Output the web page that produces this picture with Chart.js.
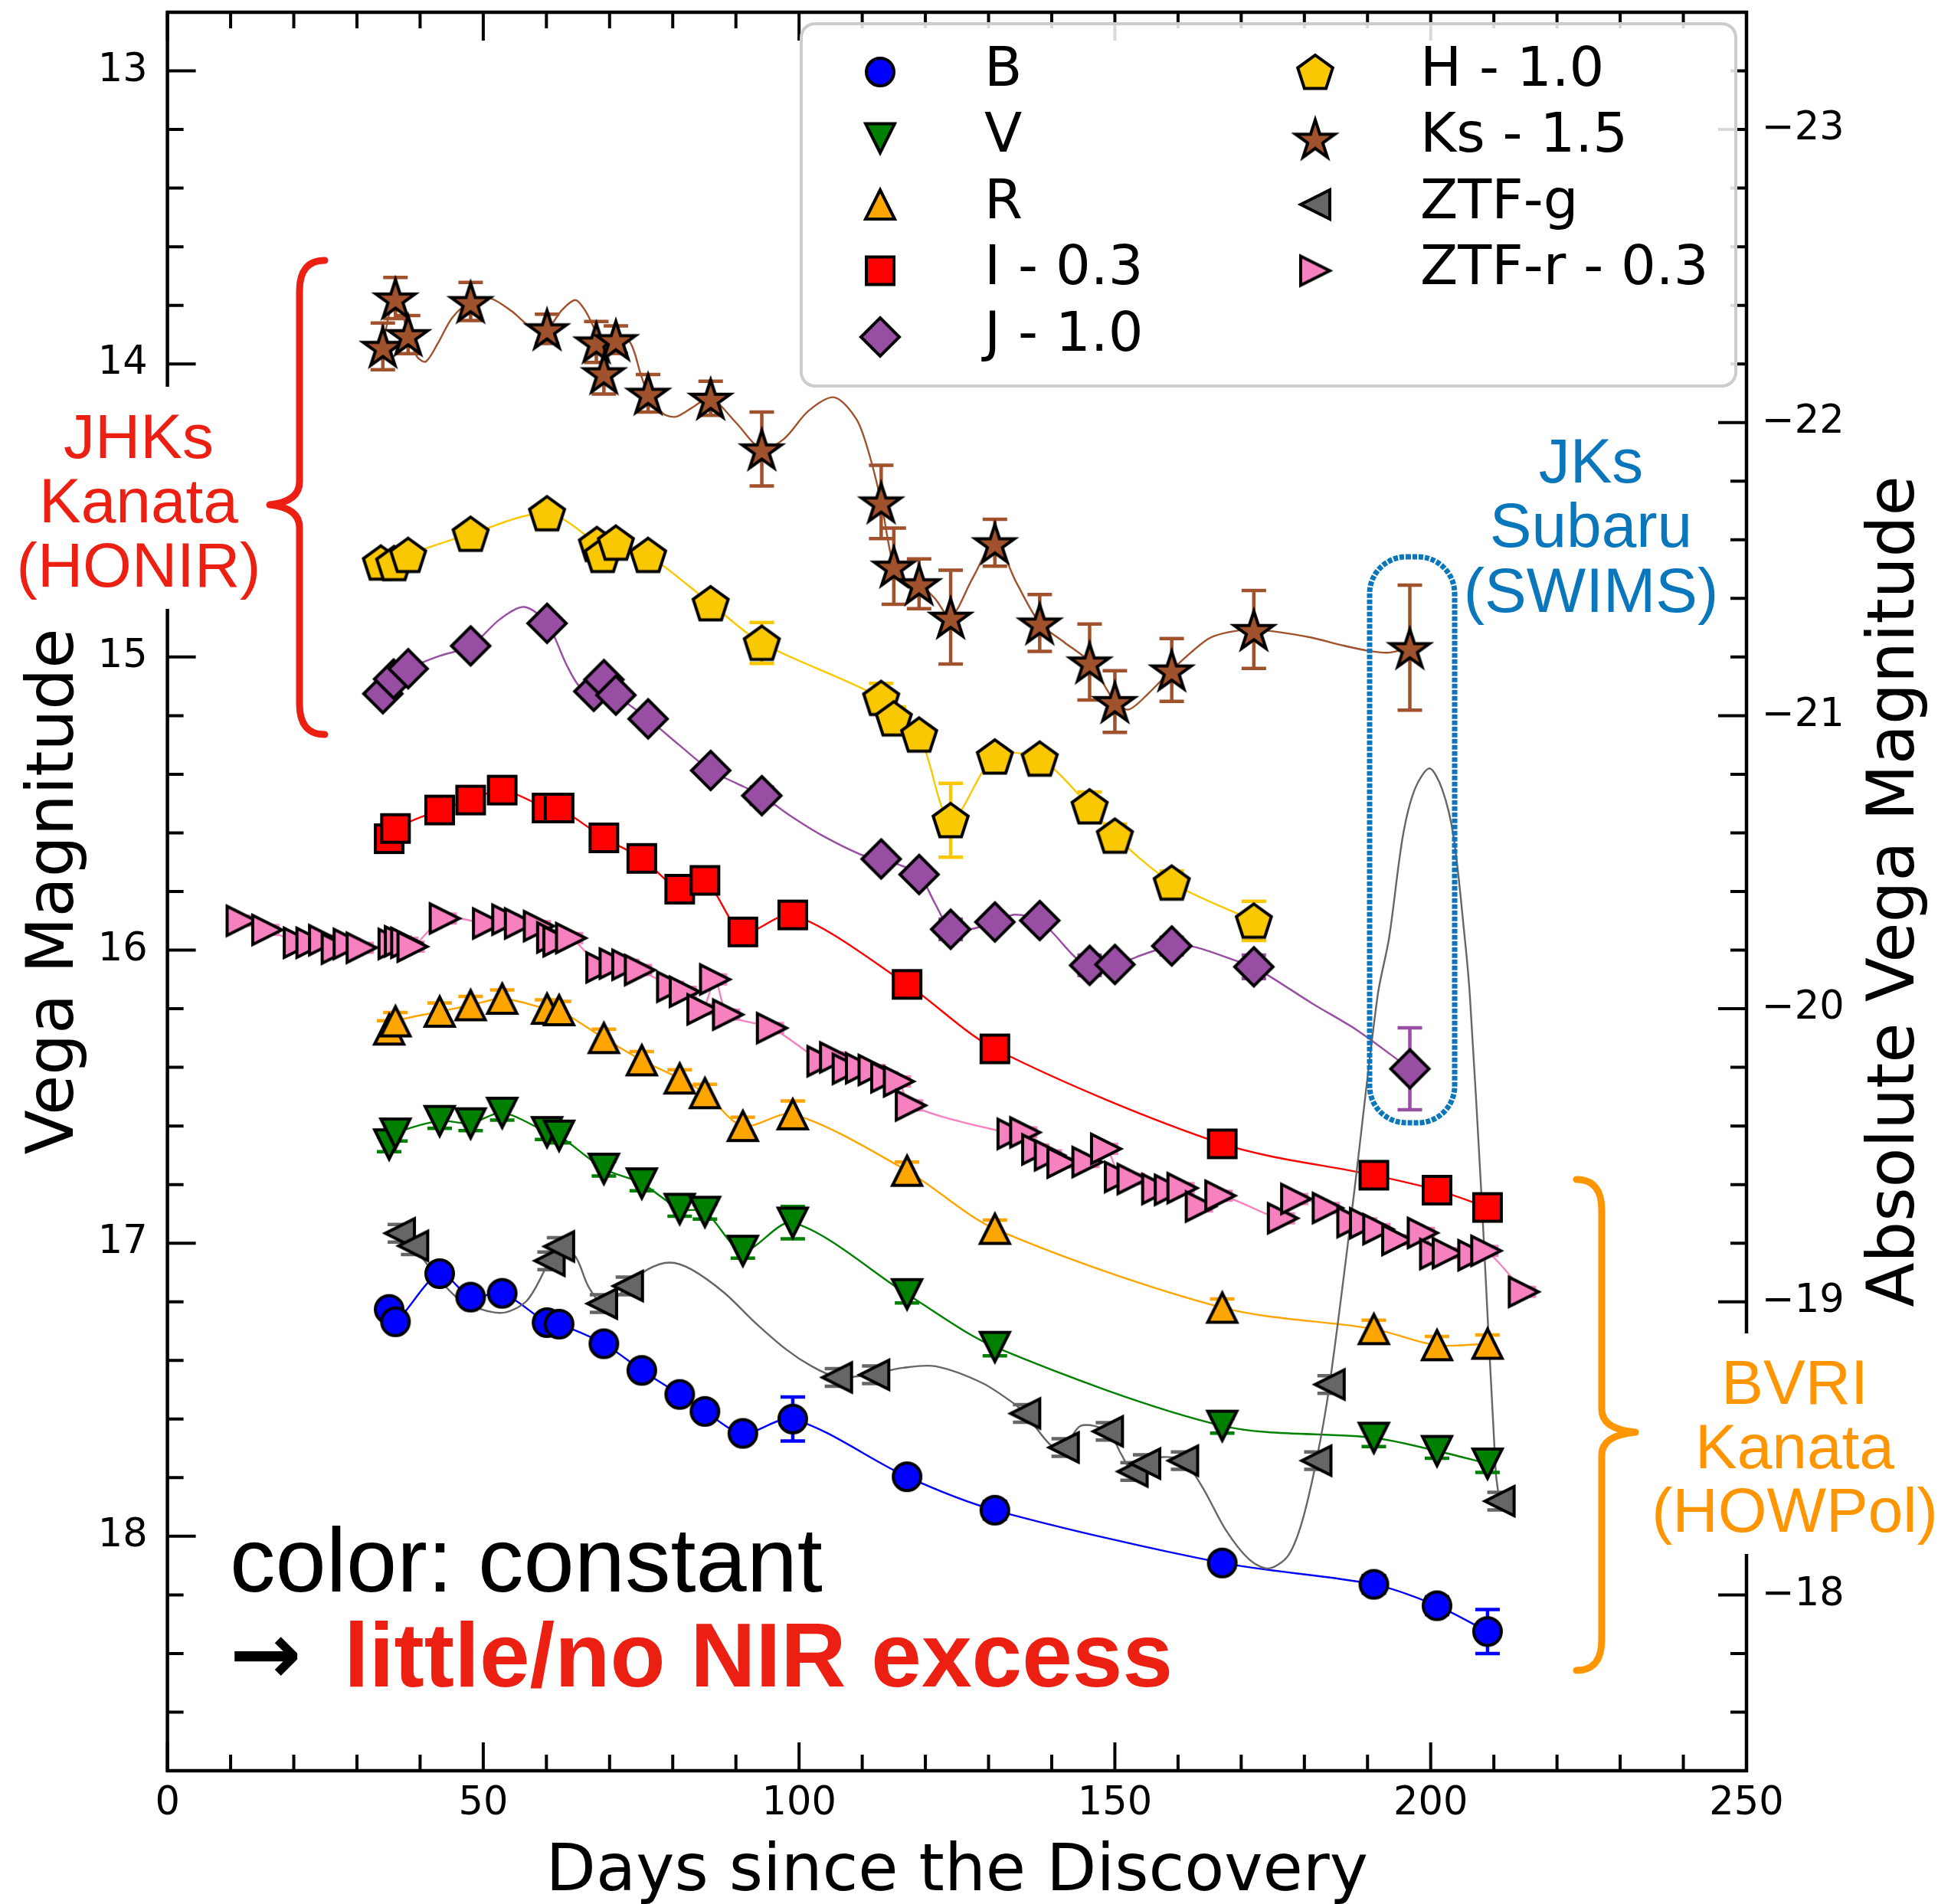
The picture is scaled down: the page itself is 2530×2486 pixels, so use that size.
<!DOCTYPE html>
<html>
<head>
<meta charset="utf-8">
<script src="https://cdn.jsdelivr.net/npm/chart.js@4.4.1/dist/chart.umd.min.js"></script>
<style>
  html, body { margin: 0; padding: 0; background: #fff; }
  canvas { display: block; }
</style>
</head>
<body>
<canvas id="chart" width="2530" height="2486" style="width:2530px;height:2486px"></canvas>
<script>
// distance modulus linking the two y axes (apparent - absolute)
const distMod = 36.2;

// B, V, R, I (Kanata HOWPol) share the same epochs
const opticalDays = [35.1, 36.1, 43.1, 48.0, 53.0, 60.1, 62.0, 69.1, 75.1, 81.1, 85.1, 91.1, 99.0, 117.1, 131.0, 167.0, 191.0, 201.0, 209.0];

const bMag = [17.226, 17.268, 17.104, 17.184, 17.171, 17.271, 17.276, 17.343, 17.434, 17.516, 17.574, 17.649, 17.600, 17.797, 17.911, 18.091, 18.164, 18.237, 18.325];
const bErr = [0.02, 0.02, 0.02, 0.02, 0.02, 0.02, 0.02, 0.02, 0.02, 0.02, 0.02, 0.02, 0.075, 0.02, 0.03, 0.02, 0.03, 0.03, 0.075];

const vMag = [16.663, 16.626, 16.583, 16.591, 16.555, 16.621, 16.633, 16.746, 16.796, 16.883, 16.893, 17.026, 16.930, 17.174, 17.354, 17.623, 17.664, 17.709, 17.752];
const vErr = [0.025, 0.025, 0.025, 0.025, 0.025, 0.025, 0.025, 0.025, 0.025, 0.025, 0.025, 0.025, 0.055, 0.03, 0.03, 0.025, 0.03, 0.025, 0.03];

const rMag = [16.271, 16.243, 16.210, 16.188, 16.166, 16.200, 16.205, 16.300, 16.376, 16.438, 16.488, 16.600, 16.560, 16.753, 16.951, 17.220, 17.293, 17.348, 17.343];
const rErr = [0.03, 0.03, 0.03, 0.03, 0.03, 0.03, 0.03, 0.03, 0.03, 0.03, 0.03, 0.03, 0.045, 0.03, 0.03, 0.03, 0.03, 0.03, 0.03];

const iMag = [15.620, 15.585, 15.522, 15.488, 15.454, 15.515, 15.515, 15.617, 15.687, 15.792, 15.762, 15.938, 15.880, 16.117, 16.337, 16.661, 16.768, 16.819, 16.878];
const iErr = [0.02, 0.02, 0.02, 0.02, 0.02, 0.02, 0.02, 0.02, 0.02, 0.02, 0.02, 0.02, 0.025, 0.02, 0.02, 0.02, 0.02, 0.02, 0.02];

// J - 1.0
const jDays = [34.1, 35.8, 38.1, 48.0, 60.1, 67.5, 69.1, 71.0, 76.1, 86.0, 94.1, 113.0, 119.0, 124.0, 131.0, 138.1, 146.0, 150.0, 159.0, 172.0, 196.7];
const jMag = [15.125, 15.075, 15.040, 14.962, 14.885, 15.117, 15.077, 15.130, 15.211, 15.387, 15.473, 15.689, 15.742, 15.929, 15.904, 15.899, 16.052, 16.049, 15.986, 16.057, 16.405];
const jErr = [0.02, 0.02, 0.02, 0.02, 0.02, 0.02, 0.02, 0.02, 0.02, 0.02, 0.03, 0.02, 0.02, 0.035, 0.02, 0.02, 0.035, 0.02, 0.03, 0.04, 0.14];

// H - 1.0
const hDays = [33.8, 35.9, 38.1, 48.0, 60.1, 68.0, 68.9, 71.0, 76.1, 86.0, 94.1, 113.0, 115.0, 119.0, 124.0, 131.0, 138.1, 146.0, 150.0, 159.0, 172.0];
const hMag = [14.678, 14.680, 14.652, 14.580, 14.510, 14.615, 14.652, 14.610, 14.652, 14.817, 14.952, 15.140, 15.210, 15.265, 15.557, 15.340, 15.347, 15.510, 15.610, 15.770, 15.900];
const hErr = [0.02, 0.02, 0.02, 0.02, 0.02, 0.02, 0.02, 0.02, 0.02, 0.02, 0.07, 0.05, 0.04, 0.03, 0.126, 0.03, 0.03, 0.05, 0.04, 0.04, 0.067];

// Ks - 1.5
const ksDays = [34.1, 36.1, 38.1, 48.0, 60.1, 67.9, 69.1, 71.0, 76.1, 86.0, 94.1, 113.0, 115.0, 119.0, 124.0, 131.0, 138.1, 146.0, 150.0, 159.0, 172.0, 196.7];
const ksMag = [13.940, 13.775, 13.900, 13.787, 13.880, 13.925, 14.030, 13.917, 14.100, 14.117, 14.290, 14.471, 14.690, 14.750, 14.864, 14.610, 14.884, 15.017, 15.152, 15.044, 14.906, 14.968];
const ksErr = [0.08, 0.07, 0.065, 0.065, 0.05, 0.07, 0.073, 0.047, 0.064, 0.058, 0.126, 0.125, 0.13, 0.085, 0.16, 0.08, 0.097, 0.13, 0.105, 0.107, 0.133, 0.213];

// ZTF-g
const gDays = [36.8, 38.9, 60.5, 62.0, 68.8, 72.9, 106.0, 111.9, 135.8, 141.9, 148.9, 152.8, 154.8, 160.8, 181.9, 184.0, 210.9];
const gMag = [16.966, 17.009, 17.060, 17.011, 17.206, 17.146, 17.458, 17.449, 17.581, 17.697, 17.642, 17.779, 17.752, 17.742, 17.742, 17.482, 17.880];
const gErr = [0.03, 0.03, 0.03, 0.03, 0.03, 0.03, 0.03, 0.03, 0.03, 0.03, 0.03, 0.03, 0.03, 0.03, 0.03, 0.03, 0.03];

// ZTF-r - 0.3
const zrDays = [11.75, 15.8, 20.8, 22.8, 24.8, 26.8, 28.7, 30.75, 35.8, 36.8, 37.8, 38.8, 43.9, 50.75, 53.8, 55.8, 58.8, 60.9, 61.9, 63.9,
  68.7, 70.8, 72.8, 74.8, 79.9, 81.9, 84.7, 86.7, 88.75, 95.7, 103.7, 105.7, 107.7, 109.8, 111.8, 113.8, 115.8, 117.7,
  133.8, 135.8, 137.7, 139.7, 141.7, 145.65, 148.6, 150.8, 152.8, 156.7, 158.7, 160.7, 163.6, 166.7,
  176.6, 178.7, 183.7, 187.6, 189.6, 191.7, 194.7, 198.75, 200.7, 202.7, 206.75, 208.8, 214.75];
const zrMag = [15.900, 15.931, 15.975, 15.975, 15.966, 15.995, 15.979, 15.992, 15.979, 15.970, 15.975, 15.988, 15.892, 15.909, 15.896, 15.909, 15.918, 15.957, 15.970, 15.959,
  16.059, 16.046, 16.050, 16.068, 16.125, 16.142, 16.202, 16.100, 16.220, 16.266, 16.379, 16.366, 16.405, 16.403, 16.409, 16.434, 16.448, 16.530,
  16.627, 16.622, 16.680, 16.700, 16.725, 16.723, 16.678, 16.774, 16.781, 16.815, 16.818, 16.812, 16.875, 16.838,
  16.915, 16.849, 16.880, 16.928, 16.932, 16.952, 16.989, 16.965, 17.037, 17.034, 17.041, 17.026, 17.166];
const zrErr = zrMag.map(() => 0.015);

// fitted curves (where they wander away from the points)
const ksCurveDays = [34.1, 35.1, 36.1, 37.1, 38.1, 39.5, 40.9, 42.8, 45.1, 48.0, 51.0, 54.5, 57.6, 60.1, 62.5, 64.6, 66.2, 67.9, 69.5, 71.0, 73.2, 75.0, 76.1, 78.5, 80.5, 83.0, 86.0, 90.0, 94.1, 97.6, 101.5, 105.6, 109.1, 111.0, 113.0, 115.0, 117.0, 119.0, 121.5, 124.0, 127.5, 131.0, 134.5, 138.1, 142.0, 146.0, 150.0, 152.2, 155.5, 159.0, 164.7, 168.0, 172.0, 176.0, 181.0, 186.0, 190.2, 193.4, 196.7];
const ksCurveMag = [13.940, 13.830, 13.775, 13.820, 13.900, 13.975, 13.992, 13.930, 13.842, 13.787, 13.775, 13.820, 13.875, 13.880, 13.815, 13.782, 13.820, 13.890, 13.930, 13.920, 13.925, 14.040, 14.100, 14.170, 14.180, 14.150, 14.117, 14.200, 14.290, 14.256, 14.160, 14.114, 14.189, 14.300, 14.471, 14.690, 14.740, 14.750, 14.800, 14.864, 14.730, 14.610, 14.750, 14.884, 14.950, 15.017, 15.152, 15.179, 15.120, 15.044, 14.939, 14.915, 14.906, 14.915, 14.933, 14.960, 14.979, 14.985, 14.968];

const jCurveDays = [34.1, 35.8, 38.1, 43.0, 48.0, 52.7, 56.5, 60.1, 63.2, 65.3, 67.5, 69.1, 71.0, 76.1, 81.0, 86.0, 90.0, 94.1, 98.5, 103.5, 109.8, 113.0, 116.0, 119.0, 121.5, 124.0, 127.1, 131.0, 134.1, 138.1, 143.8, 146.0, 150.0, 155.0, 159.0, 162.6, 168.9, 172.0, 181.4, 188.4, 196.7];
const jCurveMag = [15.125, 15.075, 15.040, 14.997, 14.962, 14.870, 14.829, 14.885, 15.027, 15.102, 15.117, 15.100, 15.130, 15.211, 15.300, 15.387, 15.430, 15.473, 15.540, 15.607, 15.674, 15.689, 15.710, 15.742, 15.840, 15.929, 15.929, 15.904, 15.879, 15.899, 16.026, 16.052, 16.049, 16.011, 15.986, 15.989, 16.034, 16.057, 16.184, 16.274, 16.405];

const gCurveDays = [36.8, 38.9, 42.5, 46.5, 52.7, 56.9, 60.5, 62.0, 64.6, 66.6, 68.8, 70.8, 72.9, 76.0, 79.5, 83.0, 88.2, 93.0, 98.0, 102.0, 106.0, 109.0, 111.9, 116.5, 121.6, 129.0, 134.2, 135.8, 139.8, 141.9, 144.6, 148.9, 151.0, 152.8, 154.8, 157.5, 160.8, 163.9, 167.6, 171.3, 174.3, 177.3, 179.5, 181.9, 184.0, 187.7, 191.6, 193.4, 195.6, 197.5, 199.8, 201.8, 203.6, 205.4, 206.2, 208.1, 210.3, 210.9];
const gCurveMag = [16.966, 17.009, 17.110, 17.196, 17.238, 17.196, 17.060, 17.011, 17.046, 17.146, 17.206, 17.190, 17.146, 17.090, 17.066, 17.090, 17.170, 17.270, 17.363, 17.420, 17.458, 17.455, 17.445, 17.425, 17.420, 17.477, 17.550, 17.581, 17.688, 17.697, 17.623, 17.642, 17.720, 17.779, 17.752, 17.730, 17.742, 17.834, 17.980, 18.080, 18.110, 18.070, 17.960, 17.742, 17.482, 16.860, 16.155, 15.960, 15.610, 15.450, 15.380, 15.450, 15.610, 15.960, 16.155, 16.860, 17.780, 17.880];

// axis ticks and legend labels
const xTicks = [0, 50, 100, 150, 200, 250];
const yTicks = [13, 14, 15, 16, 17, 18];
const absTicks = [-23, -22, -21, -20, -19, -18];
const bandLabels = ['B', 'V', 'R', 'I - 0.3', 'J - 1.0', 'H - 1.0', 'Ks - 1.5', 'ZTF-g', 'ZTF-r - 0.3'];

// ---- marker images (matplotlib-like filled markers with black edges)
function makeMarker(kind, fill) {
  const S = 76;
  const c = document.createElement('canvas');
  c.width = S; c.height = S;
  const g = c.getContext('2d');
  g.translate(S / 2, S / 2);
  g.beginPath();
  const poly = pts => { g.moveTo(pts[0][0], pts[0][1]); for (let k = 1; k < pts.length; k++) g.lineTo(pts[k][0], pts[k][1]); g.closePath(); };
  const t = 19;
  if (kind === 'circle') g.arc(0, 0, 18, 0, Math.PI * 2);
  else if (kind === 'square') g.rect(-18, -18, 36, 36);
  else if (kind === 'up') poly([[0, -t], [t, t], [-t, t]]);
  else if (kind === 'down') poly([[0, t], [-t, -t], [t, -t]]);
  else if (kind === 'left') poly([[-t, 0], [t, -t], [t, t]]);
  else if (kind === 'right') poly([[t, 0], [-t, t], [-t, -t]]);
  else if (kind === 'diamond') poly([[0, -25], [25, 0], [0, 25], [-25, 0]]);
  else if (kind === 'pentagon' || kind === 'star') {
    const pts = [];
    const n = kind === 'star' ? 10 : 5;
    for (let k = 0; k < n; k++) {
      const ang = -Math.PI / 2 + k * 2 * Math.PI / n;
      const rad = kind === 'star' ? (k % 2 === 0 ? 27 : 10.3) : 24;
      pts.push([rad * Math.cos(ang), rad * Math.sin(ang) + (kind === 'pentagon' ? 2 : 3)]);
    }
    poly(pts);
  }
  g.fillStyle = fill;
  g.fill();
  g.lineWidth = 4;
  g.lineJoin = 'miter';
  g.strokeStyle = '#000';
  g.stroke();
  return c;
}

const colB = '#0000ff', colV = '#008000', colR = '#ffa500', colI = '#ff0000', colJ = '#984ea3',
      colH = '#fac800', colKs = '#a0522d', colG = '#666666', colZr = '#f781bf';

const bands = [
  { label: bandLabels[0], days: opticalDays, mags: bMag, errs: bErr, color: colB, marker: makeMarker('circle', colB) },
  { label: bandLabels[1], days: opticalDays, mags: vMag, errs: vErr, color: colV, marker: makeMarker('down', colV) },
  { label: bandLabels[2], days: opticalDays, mags: rMag, errs: rErr, color: colR, marker: makeMarker('up', colR) },
  { label: bandLabels[3], days: opticalDays, mags: iMag, errs: iErr, color: colI, marker: makeMarker('square', colI) },
  { label: bandLabels[4], days: jDays, mags: jMag, errs: jErr, color: colJ, marker: makeMarker('diamond', colJ), cx: jCurveDays, cy: jCurveMag },
  { label: bandLabels[5], days: hDays, mags: hMag, errs: hErr, color: colH, marker: makeMarker('pentagon', colH) },
  { label: bandLabels[6], days: ksDays, mags: ksMag, errs: ksErr, color: colKs, marker: makeMarker('star', colKs), cx: ksCurveDays, cy: ksCurveMag },
  { label: bandLabels[7], days: gDays, mags: gMag, errs: gErr, color: colG, marker: makeMarker('left', colG), cx: gCurveDays, cy: gCurveMag },
  { label: bandLabels[8], days: zrDays, mags: zrMag, errs: zrErr, color: colZr, marker: makeMarker('right', colZr) }
];

const toXY = (xs, ys) => xs.map((x, k) => ({ x: x, y: ys[k] }));

const datasets = [];
bands.forEach((b, k) => {
  datasets.push({
    label: b.label + ' fit',
    data: b.cx ? toXY(b.cx, b.cy) : toXY(b.days, b.mags),
    showLine: true,
    tension: 0.3,
    borderColor: b.color,
    borderWidth: 2.4,
    pointRadius: 0,
    fill: false,
    order: 200 - k
  });
  datasets.push({
    label: b.label,
    data: toXY(b.days, b.mags),
    showLine: false,
    pointStyle: b.marker,
    pointRadius: 12,
    isMarker: true,
    order: 100 - k
  });
});

// ---- helpers for the overlay
function drawErrors(chart) {
  const { ctx, scales } = chart;
  ctx.save();
  ctx.lineWidth = 4.5;
  ctx.lineCap = 'butt';
  bands.forEach(b => {
    ctx.strokeStyle = b.color;
    ctx.beginPath();
    b.days.forEach((d, k) => {
      const px = scales.x.getPixelForValue(d);
      const y1 = scales.y.getPixelForValue(b.mags[k] - b.errs[k]);
      const y2 = scales.y.getPixelForValue(b.mags[k] + b.errs[k]);
      ctx.moveTo(px, y1); ctx.lineTo(px, y2);
      ctx.moveTo(px - 16, y1); ctx.lineTo(px + 16, y1);
      ctx.moveTo(px - 16, y2); ctx.lineTo(px + 16, y2);
    });
    ctx.stroke();
  });
  ctx.restore();
}

function roundRect(ctx, x, y, w, h, r) {
  ctx.beginPath();
  ctx.moveTo(x + r, y);
  ctx.lineTo(x + w - r, y);
  ctx.arcTo(x + w, y, x + w, y + r, r);
  ctx.lineTo(x + w, y + h - r);
  ctx.arcTo(x + w, y + h, x + w - r, y + h, r);
  ctx.lineTo(x + r, y + h);
  ctx.arcTo(x, y + h, x, y + h - r, r);
  ctx.lineTo(x, y + r);
  ctx.arcTo(x, y, x + r, y, r);
  ctx.closePath();
}

// curly brace: sx spine x, ex x of curled ends, tx/ty the tip
function brace(ctx, sx, y1, y2, tx, ty, ex, color) {
  ctx.save();
  ctx.beginPath();
  ctx.moveTo(ex, y1);
  ctx.quadraticCurveTo(sx, y1, sx, y1 + 40);
  ctx.lineTo(sx, ty - 30);
  ctx.quadraticCurveTo(sx, ty - 4, tx, ty);
  ctx.quadraticCurveTo(sx, ty + 4, sx, ty + 30);
  ctx.lineTo(sx, y2 - 40);
  ctx.quadraticCurveTo(sx, y2, ex, y2);
  ctx.strokeStyle = color;
  ctx.lineWidth = 9;
  ctx.lineJoin = 'round';
  ctx.lineCap = 'round';
  ctx.stroke();
  ctx.restore();
}

function textBlock(ctx, lines, cx, baselines, color, font) {
  ctx.save();
  ctx.fillStyle = color;
  ctx.font = font;
  ctx.textAlign = 'center';
  ctx.textBaseline = 'alphabetic';
  lines.forEach((s, k) => ctx.fillText(s, cx, baselines[k]));
  ctx.restore();
}

function drawFrame(chart) {
  const { ctx, chartArea: a, scales } = chart;
  ctx.save();
  ctx.strokeStyle = '#000';
  ctx.lineWidth = 4;
  const major = 37, minor = 21;
  ctx.beginPath();
  for (let d = 0; d <= 250; d += 10) {
    const px = scales.x.getPixelForValue(d);
    const len = d % 50 === 0 ? major : minor;
    ctx.moveTo(px, a.bottom); ctx.lineTo(px, a.bottom - len);
    ctx.moveTo(px, a.top); ctx.lineTo(px, a.top + len);
  }
  for (let k = 65; k <= 93; k++) {
    const py = scales.y.getPixelForValue(k * 0.2);
    const len = k % 5 === 0 ? major : minor;
    ctx.moveTo(a.left, py); ctx.lineTo(a.left + len, py);
  }
  for (let k = -116; k <= -88; k++) {
    const py = scales.yAbs.getPixelForValue(k * 0.2);
    const len = k % 5 === 0 ? major : minor;
    ctx.moveTo(a.right, py); ctx.lineTo(a.right - len, py);
  }
  ctx.stroke();
  ctx.lineWidth = 4.5;
  ctx.strokeRect(a.left, a.top, a.right - a.left, a.bottom - a.top);
  ctx.restore();
}

const overlay = {
  id: 'overlay',
  beforeDatasetsDraw(chart) { chart.$errDone = false; },
  beforeDatasetDraw(chart, args) {
    const ds = chart.data.datasets[args.index];
    if (ds.isMarker && !chart.$errDone) {
      drawErrors(chart);
      chart.$errDone = true;
    }
  },
  afterDraw(chart) {
    const ctx = chart.ctx;
    const a = chart.chartArea;
    drawFrame(chart);

    // white boxes behind the side labels (they hide the spines)
    ctx.save();
    ctx.fillStyle = '#fff';
    ctx.fillRect(10, 505, 340, 290);
    ctx.fillRect(2150, 1741, 380, 288);
    ctx.restore();

    textBlock(ctx, ['JHKs', 'Kanata', '(HONIR)'], 181, [598, 682, 766], '#ec2012', '82px "Liberation Sans", Arial, sans-serif');
    textBlock(ctx, ['JKs', 'Subaru', '(SWIMS)'], 2077, [630, 714, 799], '#0a76bb', '82px "Liberation Sans", Arial, sans-serif');
    textBlock(ctx, ['BVRI', 'Kanata', '(HOWPol)'], 2343, [1833, 1917, 2000], '#ff9500', '82px "Liberation Sans", Arial, sans-serif');

    brace(ctx, 391, 340, 959, 352, 659, 424, '#ec2012');
    brace(ctx, 2091, 1540, 2181, 2135, 1870, 2058, '#ff9500');

    // SWIMS highlight
    ctx.save();
    roundRect(ctx, 1788, 727, 111, 739, 48);
    ctx.strokeStyle = '#0a76bb';
    ctx.lineWidth = 7;
    ctx.setLineDash([6, 2]);
    ctx.stroke();
    ctx.restore();

    // bottom-left message
    ctx.save();
    ctx.fillStyle = '#000';
    ctx.textBaseline = 'alphabetic';
    ctx.textAlign = 'left';
    ctx.font = '119px "Liberation Sans", Arial, sans-serif';
    ctx.fillText('color: constant', 300, 2078);
    ctx.font = 'bold 112px "DejaVu Sans", sans-serif';
    ctx.fillText('\u2192', 300, 2198);
    ctx.fillStyle = '#ec2012';
    ctx.font = 'bold 118px "Liberation Sans", Arial, sans-serif';
    ctx.fillText('little/no NIR excess', 449, 2202);
    ctx.restore();

    // axis titles
    ctx.save();
    ctx.fillStyle = '#000';
    ctx.font = '85px "DejaVu Sans", sans-serif';
    ctx.textAlign = 'center';
    ctx.textBaseline = 'alphabetic';
    ctx.fillText('Days since the Discovery', (a.left + a.right) / 2, 2468);
    ctx.save();
    ctx.translate(95, (a.top + a.bottom) / 2);
    ctx.rotate(-Math.PI / 2);
    ctx.fillText('Vega Magnitude', 0, 0);
    ctx.restore();
    ctx.save();
    ctx.translate(2498, (a.top + a.bottom) / 2);
    ctx.rotate(-Math.PI / 2);
    ctx.fillText('Absolute Vega Magnitude', 0, 0);
    ctx.restore();
    ctx.restore();

    // legend
    ctx.save();
    roundRect(ctx, 1046, 31, 1220, 473, 18);
    ctx.fillStyle = 'rgba(255,255,255,0.85)';
    ctx.fill();
    ctx.strokeStyle = '#cccccc';
    ctx.lineWidth = 4;
    ctx.stroke();
    ctx.fillStyle = '#000';
    ctx.font = '72px "DejaVu Sans", sans-serif';
    ctx.textAlign = 'left';
    ctx.textBaseline = 'middle';
    bands.forEach((b, k) => {
      const col = k < 5 ? 0 : 1;
      const row = k < 5 ? k : k - 5;
      const my = 94 + row * 86.5;
      const mx = col === 0 ? 1149 : 1717;
      const tx = col === 0 ? 1285 : 1854;
      ctx.drawImage(b.marker, mx - b.marker.width / 2, my - b.marker.height / 2);
      ctx.fillText(b.label, tx, my - 1);
    });
    ctx.restore();
  }
};

const tickFont = { family: '"DejaVu Sans", sans-serif', size: 51 };

const ctx = document.getElementById('chart').getContext('2d');
new Chart(ctx, {
  type: 'scatter',
  data: { datasets: datasets },
  options: {
    responsive: false,
    animation: false,
    devicePixelRatio: 1,
    layout: { padding: { top: 16, left: 0, right: 0, bottom: 0 } },
    plugins: {
      legend: { display: false },
      tooltip: { enabled: false }
    },
    scales: {
      x: {
        type: 'linear',
        position: 'bottom',
        min: 0,
        max: 250,
        grid: { display: false, drawTicks: false },
        border: { display: false },
        ticks: { font: tickFont, color: '#000', padding: 13, maxRotation: 0 },
        afterBuildTicks: s => { s.ticks = xTicks.map(v => ({ value: v })); },
        afterFit: s => { s.height = 174; s.paddingLeft = 0; s.paddingRight = 0; }
      },
      y: {
        type: 'linear',
        position: 'left',
        min: 12.8,
        max: 18.8,
        reverse: true,
        grid: { display: false, drawTicks: false },
        border: { display: false },
        ticks: { font: tickFont, color: '#000', padding: 26, callback: v => String(v) },
        afterBuildTicks: s => { s.ticks = yTicks.map(v => ({ value: v })); },
        afterFit: s => { s.width = 218.6; s.paddingTop = 0; s.paddingBottom = 0; }
      },
      yAbs: {
        axis: 'y',
        type: 'linear',
        position: 'right',
        min: 12.8 - distMod,
        max: 18.8 - distMod,
        reverse: true,
        grid: { display: false, drawTicks: false },
        border: { display: false },
        ticks: { font: tickFont, color: '#000', padding: 20, callback: v => '\u2212' + Math.abs(v) },
        afterBuildTicks: s => { s.ticks = absTicks.map(v => ({ value: v })); },
        afterFit: s => { s.width = 250; s.paddingTop = 0; s.paddingBottom = 0; }
      }
    }
  },
  plugins: [overlay]
});
</script>
</body>
</html>
